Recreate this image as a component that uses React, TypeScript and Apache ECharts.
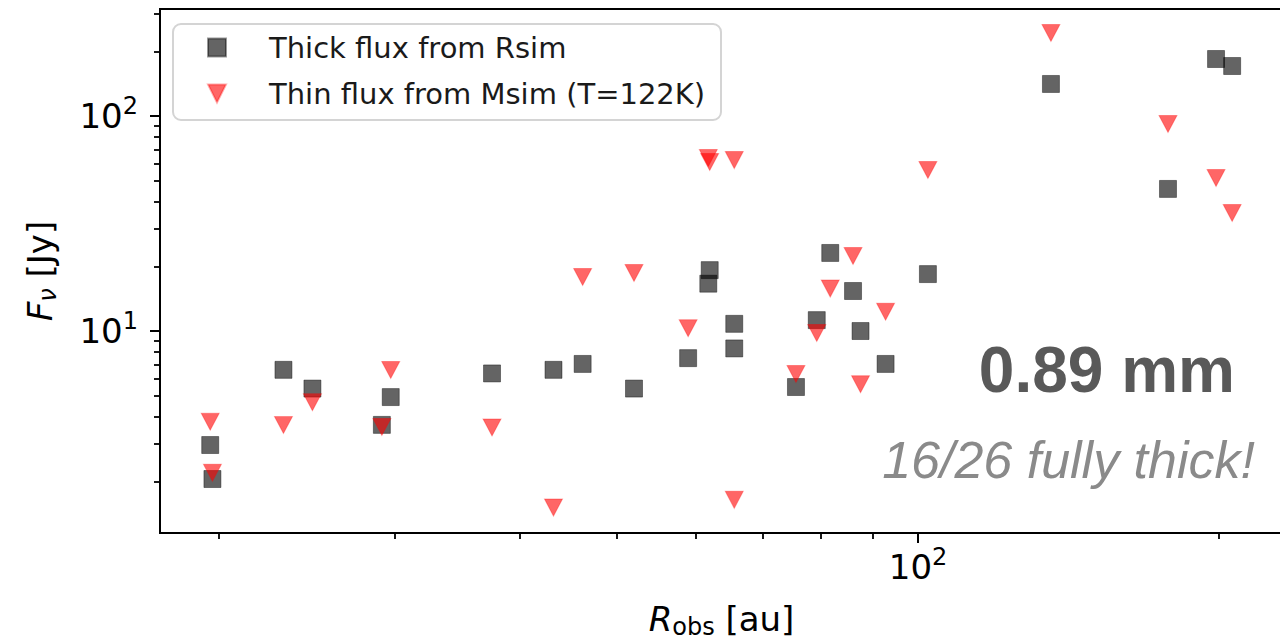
import React, { useEffect, useRef } from 'react';
import * as echarts from 'echarts';

// ---- data ----
const radiusAu = [19.6, 19.7, 23.2, 24.8, 29.1, 29.7, 37.5, 43.2, 46.2, 52.0, 58.9, 61.7, 61.9, 65.5, 65.5, 75.5, 79.2, 81.7, 86.1, 87.6, 92.8, 102.3, 135.8, 177.8, 198.6, 206.1];
const thickFlux = [2.95, 2.05, 6.6, 5.4, 3.66, 4.93, 6.35, 6.6, 7.03, 5.4, 7.48, 16.6, 19.2, 10.8, 8.3, 5.49, 11.24, 23.07, 15.35, 10.0, 7.03, 18.4, 140.9, 45.8, 184.1, 170.8];
const thinFlux = [3.79, 2.19, 3.66, 4.67, 3.58, 6.59, 3.56, 1.51, 17.84, 18.62, 10.3, 63.8, 61.1, 62.4, 1.64, 6.31, 9.79, 15.76, 22.34, 5.66, 12.3, 56.1, 243.4, 91.8, 51.5, 35.4];

const seriesNames = ['Thick flux from Rsim', 'Thin flux from Msim (T=122K)'];

const xMinorTicks = [20, 30, 40, 50, 60, 70, 80, 90, 200];
const xMajorTicks = [100];
const yMinorTicks = [2, 3, 4, 5, 6, 7, 8, 9, 20, 30, 40, 50, 60, 70, 80, 90, 200, 300];
const yMajorTicks = [10, 100];
const tickExponents: Record<number, string> = { 10: '1', 100: '2' };

const X_MIN = 17.46;
const X_MAX = 231.7;
const Y_MIN = 1.15;
const Y_MAX = 314.5;

const bandLabel = '0.89 mm';
const thickNote = '16/26 fully thick!';

const FONT = 'DejaVu Sans';

export default function App() {
  const ref = useRef<HTMLDivElement>(null);
  useEffect(() => {
    if (!ref.current) return;
    const chart = echarts.init(ref.current, undefined, { renderer: 'svg' });
    const fmt = (v: number) => {
      const e = tickExponents[Math.round(v)];
      return e ? `{b|10}{p|${e}}` : '';
    };
    const tickRich = {
      b: { fontFamily: FONT, fontSize: 34, color: '#000', lineHeight: 44 },
      p: { fontFamily: FONT, fontSize: 24, color: '#000', lineHeight: 26, verticalAlign: 'top' },
    };
    const logAxis = (min: number, max: number) => ({
      type: 'log',
      logBase: 10,
      min,
      max,
      splitLine: { show: false },
      minorTick: { show: false },
      minorSplitLine: { show: false },
    });
    const nameStyle = {
      fontFamily: FONT,
      fontSize: 34,
      color: '#000',
      rich: {
        i: { fontFamily: FONT, fontStyle: 'italic', fontSize: 34, color: '#000', lineHeight: 40 },
        s: { fontFamily: FONT, fontSize: 24, color: '#000', lineHeight: 24, verticalAlign: 'bottom' },
        si: { fontFamily: FONT, fontStyle: 'italic', fontSize: 24, color: '#000', lineHeight: 24, verticalAlign: 'bottom' },
        n: { fontFamily: FONT, fontSize: 34, color: '#000', lineHeight: 40 },
      },
    };
    const option: any = {
      animation: false,
      backgroundColor: '#ffffff',
      grid: {
        left: 160,
        top: 9,
        width: 1123,
        height: 524,
        show: true,
        borderColor: '#000',
        borderWidth: 2,
        backgroundColor: 'transparent',
        containLabel: false,
        outerBoundsMode: 'none',
      },
      legend: {
        data: [
          { name: seriesNames[0], icon: 'path://M0,0L2,0L2,2L0,2Z' },
          { name: seriesNames[1], icon: 'path://M0,0L2,0L1,2Z' },
        ],
        orient: 'vertical',
        left: 207,
        top: 33,
        padding: 0,
        itemWidth: 94,
        itemHeight: 18,
        itemGap: 17,
        symbolKeepAspect: true,
        selectedMode: false,
        textStyle: { fontFamily: FONT, fontSize: 29, color: '#1a1a1a', lineHeight: 18 },
      },
      xAxis: [
        {
          ...logAxis(X_MIN, X_MAX),
          gridIndex: 0,
          position: 'bottom',
          axisLine: { show: true, onZero: false, lineStyle: { color: '#000', width: 2 } },
          axisTick: { show: true, inside: false, length: 6, lineStyle: { color: '#000', width: 1.8 }, customValues: xMinorTicks },
          axisLabel: { show: true, customValues: xMajorTicks, formatter: fmt, margin: 12, fontFamily: FONT, fontSize: 34, color: '#000', rich: tickRich },
          name: '{i|R}{s|obs}{n| [au]}',
          nameLocation: 'middle',
          nameGap: 66,
          nameTextStyle: nameStyle,
        },
        {
          ...logAxis(X_MIN, X_MAX),
          gridIndex: 0,
          position: 'bottom',
          axisLine: { show: false },
          axisTick: { show: true, inside: false, length: 10, lineStyle: { color: '#000', width: 2 }, customValues: xMajorTicks },
          axisLabel: { show: false },
        },
      ],
      yAxis: [
        {
          ...logAxis(Y_MIN, Y_MAX),
          gridIndex: 0,
          position: 'left',
          axisLine: { show: true, onZero: false, lineStyle: { color: '#000', width: 2 } },
          axisTick: { show: true, inside: false, length: 6, lineStyle: { color: '#000', width: 1.8 }, customValues: yMinorTicks },
          axisLabel: { show: true, customValues: yMajorTicks, formatter: fmt, margin: 22, fontFamily: FONT, fontSize: 34, color: '#000', rich: tickRich },
          name: '{i|F}{si|ν}{n| [Jy]}',
          nameLocation: 'middle',
          nameRotate: 90,
          nameGap: 100,
          nameTextStyle: nameStyle,
        },
        {
          ...logAxis(Y_MIN, Y_MAX),
          gridIndex: 0,
          position: 'left',
          axisLine: { show: false },
          axisTick: { show: true, inside: false, length: 10, lineStyle: { color: '#000', width: 2 }, customValues: yMajorTicks },
          axisLabel: { show: false },
        },
      ],
      series: [
        {
          name: seriesNames[0],
          type: 'scatter',
          xAxisIndex: 0,
          yAxisIndex: 0,
          symbol: 'rect',
          symbolSize: 17,
          itemStyle: { color: 'rgba(0,0,0,0.76)', borderColor: 'rgba(0,0,0,0.5)', borderWidth: 1 },
          data: radiusAu.map((r, i) => [r, thickFlux[i]]),
          z: 3,
        },
        {
          name: seriesNames[1],
          type: 'scatter',
          xAxisIndex: 0,
          yAxisIndex: 0,
          symbol: 'path://M0,0L2,0L1,2Z',
          symbolSize: [18, 17],
          itemStyle: { color: 'rgba(255,0,0,0.75)', borderColor: 'rgba(255,0,0,0.4)', borderWidth: 1 },
          data: radiusAu.map((r, i) => [r, thinFlux[i]]),
          z: 4,
        },
      ],
      graphic: [
        {
          type: 'rect',
          shape: { x: 173, y: 24, width: 548, height: 96, r: 8 },
          style: { fill: 'rgba(255,255,255,0.8)', stroke: '#d4d4d4', lineWidth: 2 },
          z: 1,
        },
        {
          type: 'text',
          x: 1235,
          y: 370,
          style: {
            text: bandLabel,
            fontFamily: 'Liberation Sans',
            fontWeight: 'bold',
            fontSize: 64,
            fill: '#595959',
            textAlign: 'right',
            textVerticalAlign: 'middle',
          },
          z: 10,
        },
        {
          type: 'text',
          x: 1255,
          y: 460,
          style: {
            text: thickNote,
            fontFamily: 'Liberation Sans',
            fontStyle: 'italic',
            fontSize: 52,
            fill: '#8a8a8a',
            textAlign: 'right',
            textVerticalAlign: 'middle',
          },
          z: 10,
        },
      ],
    };
    chart.setOption(option);
    return () => chart.dispose();
  }, []);
  return (
    <div
      ref={ref}
      style={{ position: 'fixed', left: 0, top: 0, width: 1280, height: 641, background: '#fff' }}
    />
  );
}
